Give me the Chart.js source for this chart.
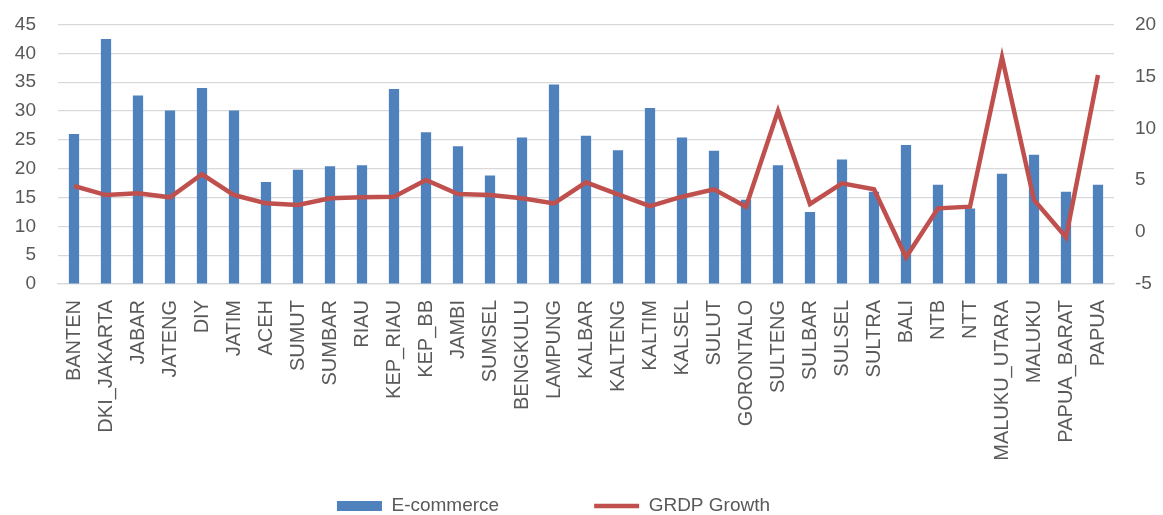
<!DOCTYPE html>
<html>
<head>
<meta charset="utf-8">
<script src="https://cdn.jsdelivr.net/npm/chart.js@4/dist/chart.umd.min.js"></script>
<style>
  html, body { margin: 0; padding: 0; background: #fff; }
  #wrap { width: 1163px; height: 515px; }
</style>
</head>
<body>
<div id="wrap"><canvas id="myChart" width="1163" height="515"></canvas></div>
<script>
const provinces = ['BANTEN', 'DKI_JAKARTA', 'JABAR', 'JATENG', 'DIY', 'JATIM', 'ACEH', 'SUMUT', 'SUMBAR', 'RIAU',
    'KEP_RIAU', 'KEP_BB', 'JAMBI', 'SUMSEL', 'BENGKULU', 'LAMPUNG', 'KALBAR', 'KALTENG', 'KALTIM', 'KALSEL',
    'SULUT', 'GORONTALO', 'SULTENG', 'SULBAR', 'SULSEL', 'SULTRA', 'BALI', 'NTB', 'NTT', 'MALUKU_UTARA',
    'MALUKU', 'PAPUA_BARAT', 'PAPUA'];

const ecommerce = [26.0, 42.5, 32.7, 30.1, 34.0, 30.1, 17.7, 19.8, 20.4, 20.6,
    33.8, 26.3, 23.9, 18.8, 25.4, 34.6, 25.7, 23.2, 30.5, 25.4,
    23.1, 14.6, 20.6, 12.5, 21.6, 16.0, 24.1, 17.2, 13.1, 19.1,
    22.4, 16.0, 17.2];

const grdpGrowth = [4.44, 3.57, 3.74, 3.35, 5.57, 3.57, 2.77, 2.61, 3.26, 3.35,
    3.41, 5.02, 3.67, 3.57, 3.26, 2.77, 4.80, 3.64, 2.51, 3.41,
    4.12, 2.45, 11.67, 2.71, 4.70, 4.12, -2.43, 2.29, 2.45, 16.84,
    3.09, -0.5, 15.13];

const leftTicks = [0, 45, 5];
const rightTicks = [-5, 20, 5];

const textColor = '#595959';
const gridColor = '#d9d9d9';
const font = { family: '"Liberation Sans", Arial, sans-serif', size: 19 };
const xFont = { family: '"Liberation Sans", Arial, sans-serif', size: 20 };

// legend: wide gap between the two items (padding 95) but keep the row low and
// a bit left of centre, like the original
const legendTweak = {
    id: 'legendTweak',
    afterUpdate: (chart) => {
        const lg = chart.legend;
        lg.top -= 85;
        lg.left -= 28;
        lg.right -= 28;
    }
};

const config = {
    type: 'bar',
    data: {
        labels: provinces,
        datasets: [{
            type: 'line',
            label: 'GRDP Growth',
            data: grdpGrowth,
            yAxisID: 'y2',
            borderColor: '#c0504d',
            backgroundColor: '#c0504d',
            borderWidth: 4.5,
            pointRadius: 0,
            pointStyle: 'line',
            tension: 0,
            order: 0
        }, {
            label: 'E-commerce',
            data: ecommerce,
            yAxisID: 'y',
            backgroundColor: '#4f81bd',
            pointStyle: 'rect',
            categoryPercentage: 0.32,
            barPercentage: 1,
            order: 1
        }]
    },
    options: {
        responsive: false,
        animation: false,
        layout: { padding: { top: 24.5, bottom: 0 } },
        plugins: {
            tooltip: { enabled: false },
            legend: {
                position: 'bottom',
                reverse: true,
                maxHeight: 28.5,
                labels: {
                    usePointStyle: true,
                    pointStyleWidth: 45,
                    boxHeight: 10,
                    padding: 95,
                    color: textColor,
                    font: font
                }
            }
        },
        scales: {
            x: {
                grid: { display: false },
                border: { color: gridColor, width: 1.2 },
                ticks: { color: textColor, font: xFont, minRotation: 90, maxRotation: 90, padding: 8, autoSkip: false },
                afterFit: (scale) => { scale.height = 202.5; }
            },
            y: {
                position: 'left',
                min: leftTicks[0], max: leftTicks[1],
                grid: { color: gridColor, lineWidth: 1.2, drawTicks: true, tickLength: 19, tickColor: 'rgba(0,0,0,0)' },
                border: { display: false },
                ticks: { stepSize: leftTicks[2], color: textColor, font: font, padding: 3, autoSkip: false },
                afterFit: (scale) => { scale.width = 58; }
            },
            y2: {
                position: 'right',
                min: rightTicks[0], max: rightTicks[1],
                grid: { display: false, drawTicks: true, tickLength: 18 },
                border: { display: false },
                ticks: { stepSize: rightTicks[2], color: textColor, font: font, padding: 3, autoSkip: false },
                afterFit: (scale) => { scale.width = 49; }
            }
        }
    },
    plugins: [legendTweak]
};

const myChart = new Chart(document.getElementById('myChart').getContext('2d'), config);
</script>
</body>
</html>
